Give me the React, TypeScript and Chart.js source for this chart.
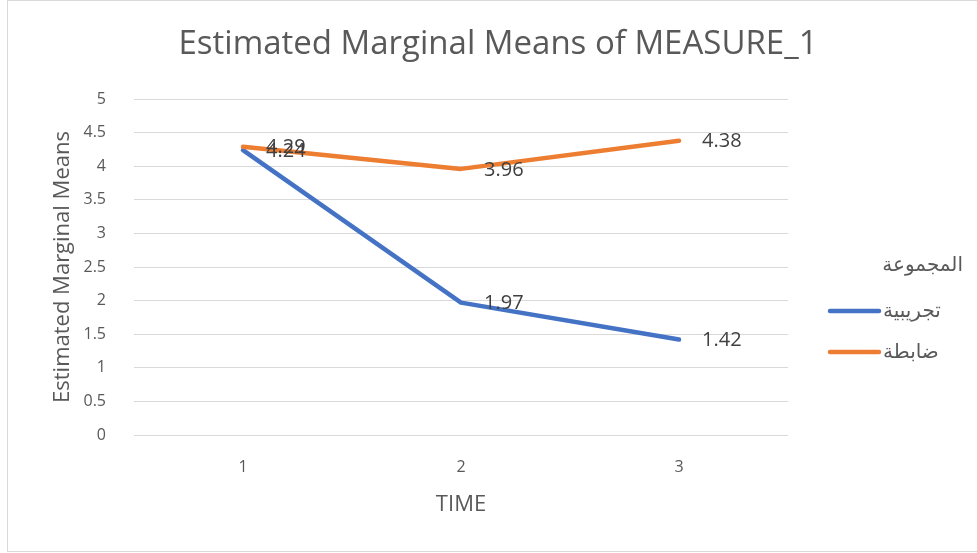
import React, { useEffect, useRef } from "react";
import { Chart, registerables } from "chart.js";

Chart.register(...registerables);

const titleText = "Estimated Marginal Means of MEASURE_1";
const yAxisTitle = "Estimated Marginal Means";
const xAxisTitle = "TIME";
const legendTitle = "المجموعة";
const categories = ["1", "2", "3"];
const seriesNames = ["تجريبية", "ضابطة"];
const experimental = [4.24, 1.97, 1.42];
const control = [4.29, 3.96, 4.38];
const colors = ["#4472C4", "#ED7D31"];

const FONT = "'Open Sans', 'DejaVu Sans', sans-serif";
const TEXT = "#595959";

const chartTitle = {
  id: "chartTitle",
  afterDraw(chart: any) {
    const ctx = chart.ctx;
    ctx.save();
    ctx.font = `33px ${FONT}`;
    ctx.fillStyle = TEXT;
    ctx.textAlign = "center";
    ctx.textBaseline = "alphabetic";
    ctx.fillText(titleText, 490, 53);
    ctx.restore();
  },
};

const dataLabels = {
  id: "dataLabels",
  afterDatasetsDraw(chart: any) {
    const ctx = chart.ctx;
    ctx.save();
    ctx.font = `20px ${FONT}`;
    ctx.fillStyle = "#404040";
    ctx.textAlign = "left";
    ctx.textBaseline = "middle";
    chart.data.datasets.forEach((ds: any, i: number) => {
      const meta = chart.getDatasetMeta(i);
      meta.data.forEach((pt: any, j: number) => {
        ctx.fillText(String(ds.data[j]), pt.x + 23, pt.y + 1);
      });
    });
    ctx.restore();
  },
};

const customLegend = {
  id: "customLegend",
  afterDraw(chart: any) {
    const ctx = chart.ctx;
    ctx.save();
    ctx.fillStyle = TEXT;
    ctx.font = `20px ${FONT}`;
    ctx.textBaseline = "middle";
    ctx.textAlign = "right";
    ctx.fillText(legendTitle, 955, 264);
    chart.data.datasets.forEach((ds: any, i: number) => {
      const y = 310 + i * 41;
      ctx.strokeStyle = ds.borderColor;
      ctx.lineWidth = 4.5;
      ctx.lineCap = "round";
      ctx.beginPath();
      ctx.moveTo(822, y);
      ctx.lineTo(871, y);
      ctx.stroke();
      ctx.textAlign = "left";
      ctx.fillStyle = TEXT;
      ctx.fillText(ds.label, 875, y);
    });
    ctx.restore();
  },
};

export default function App() {
  const ref = useRef<HTMLCanvasElement>(null);
  useEffect(() => {
    const chart = new Chart(ref.current!, {
      type: "line",
      data: {
        labels: categories,
        datasets: [
          {
            label: seriesNames[0],
            data: experimental,
            borderColor: colors[0],
            backgroundColor: colors[0],
            borderWidth: 4.5,
            pointRadius: 0,
            borderCapStyle: "round",
            borderJoinStyle: "round",
            order: 1,
          },
          {
            label: seriesNames[1],
            data: control,
            borderColor: colors[1],
            backgroundColor: colors[1],
            borderWidth: 4.5,
            pointRadius: 0,
            borderCapStyle: "round",
            borderJoinStyle: "round",
            order: 0,
          },
        ],
      },
      options: {
        responsive: false,
        animation: false,
        layout: { padding: { left: 0, right: 189, top: 98, bottom: 0 } },
        plugins: {
          legend: { display: false },
          tooltip: { enabled: false },
          title: { display: false },
        },
        scales: {
          x: {
            offset: true,
            grid: { display: false, drawTicks: false },
            border: { display: false },
            ticks: { color: TEXT, font: { family: FONT, size: 16 }, padding: 23, maxRotation: 0 },
            title: {
              display: true,
              text: xAxisTitle,
              color: TEXT,
              font: { family: FONT, size: 22, lineHeight: 1.2 },
              padding: { top: 0, bottom: 33 },
            },
            afterFit(scale: any) {
              scale.height = 116;
            },
          },
          y: {
            min: 0,
            max: 5,
            grid: { color: "#d9d9d9", lineWidth: 1, drawTicks: false },
            border: { display: false },
            ticks: {
              stepSize: 0.5,
              color: TEXT,
              font: { family: FONT, size: 16 },
              padding: 28,
              callback: (v: any) => String(Number(v)),
            },
            title: {
              display: true,
              text: yAxisTitle,
              color: TEXT,
              font: { family: FONT, size: 22, lineHeight: 1.2 },
              padding: { top: 41.5, bottom: 0 },
            },
            afterFit(scale: any) {
              scale.width = 126;
            },
          },
        },
      },
      plugins: [chartTitle, dataLabels, customLegend],
    } as any);
    return () => chart.destroy();
  }, []);
  return (
    <div
      style={{
        position: "absolute",
        left: 7,
        top: 0,
        width: 971,
        height: 552,
        border: "1px solid #d9d9d9",
        boxSizing: "border-box",
        background: "#fff",
      }}
    >
      <canvas ref={ref} width={969} height={550} style={{ display: "block" }} />
    </div>
  );
}
